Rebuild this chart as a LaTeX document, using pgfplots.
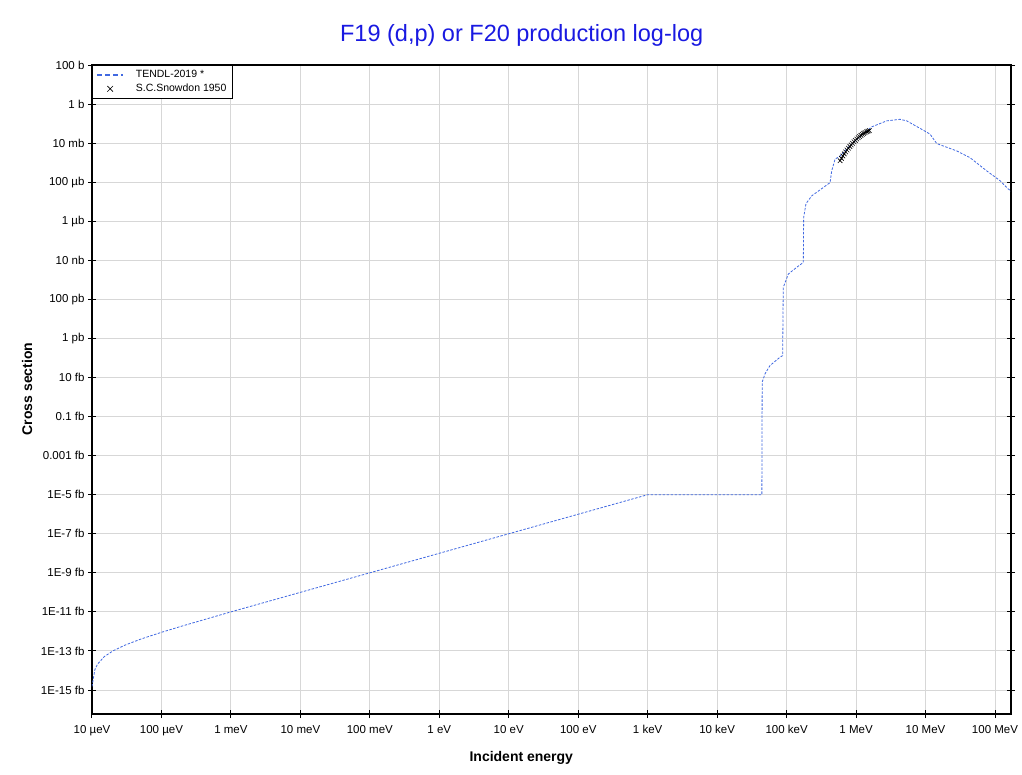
\documentclass[border=0pt]{standalone}
\usepackage{fontspec}
\setmainfont{Liberation Sans}
\usepackage{pgfplots}
\pgfplotsset{compat=1.18}
\definecolor{tendl}{RGB}{65,105,225}
\definecolor{titleblue}{RGB}{25,25,225}
\definecolor{gridgray}{RGB}{215,215,215}

\begin{document}
\begin{tikzpicture}
\useasboundingbox (-92pt,-60pt) rectangle (930pt,714pt);
\begin{axis}[
  at={(0pt,0pt)}, anchor=south west,
  scale only axis, width=919pt, height=649pt,
  xmode=log, ymode=log,
  xmin=1e-5, xmax=1.7e8, ymin=5.9e-32, ymax=1e2,
  xtick={1e-5,1e-4,1e-3,1e-2,1e-1,1,10,100,1e3,1e4,1e5,1e6,1e7,1e8},
  xticklabels={10 µeV,100 µeV,1 meV,10 meV,100 meV,1 eV,10 eV,100 eV,1 keV,10 keV,100 keV,1 MeV,10 MeV,100 MeV},
  ytick={1e2,1,1e-2,1e-4,1e-6,1e-8,1e-10,1e-12,1e-14,1e-16,1e-18,1e-20,1e-22,1e-24,1e-26,1e-28,1e-30},
  yticklabels={100 b,1 b,10 mb,100 µb,1 µb,10 nb,100 pb,1 pb,10 fb,0.1 fb,0.001 fb,1E-5 fb,1E-7 fb,1E-9 fb,1E-11 fb,1E-13 fb,1E-15 fb},
  xminorticks=false, yminorticks=false,
  grid=major, major grid style={gridgray, line width=1pt},
  axis line style={black, line width=1.2pt},
  tick style={black, line width=1pt}, major tick length=8pt, tick align=center,
  xtick pos=bottom, ytick pos=both, yticklabel pos=left,
  tick label style={font=\fontsize{11.5}{13}\selectfont},
  xticklabel style={yshift=-4pt},
  legend style={at={(0,1)}, anchor=north west, draw=black, line width=0.8pt,
    font=\fontsize{10.5}{12}\selectfont, inner xsep=4pt, inner ysep=3pt,
    row sep=1pt, cells={anchor=west},
    /tikz/every odd column/.append style={column sep=10pt}},
  legend cell align=left,
  legend image code/.code={\draw[mark repeat=2,mark phase=2,#1] plot coordinates {(0pt,0pt)(13pt,0pt)(26pt,0pt)};},
]
\addlegendimage{tendl, line width=1.5pt, dash pattern=on 5pt off 3pt}
\addlegendentry{TENDL-2019 *}
\addlegendimage{only marks, mark=x, mark size=4pt, black, line width=0.6pt}
\addlegendentry{S.C.Snowdon 1950}
\addplot[forget plot, tendl, line width=0.8pt, dash pattern=on 2.5pt off 1.5pt]
  coordinates {
  (1e-5,1.5e-30) (1.1e-5,1.1e-29) (1.2e-5,2.1e-29) (1.5e-5,5.1e-29)
  (2e-5,1.0e-28) (3e-5,2.0e-28) (5e-5,4.0e-28) (1e-4,9.0e-28)
  (2e-4,1.9e-27) (5e-4,4.9e-27) (1e-3,1.0e-26) (1e3,1.0e-20)
  (4.40e4,1.0e-20) (4.45e4,5.8e-15) (4.89e4,1.55e-14) (5.77e4,4.1e-14)
  (8.04e4,1.1e-13) (8.77e4,1.32e-13) (8.95e4,4.1e-10) (1.06e5,2.0e-9)
  (1.40e5,4.4e-9) (1.74e5,7.8e-9) (1.76e5,1.55e-6) (1.90e5,7.9e-6)
  (2.30e5,2.0e-5) (4.22e5,9.5e-5) (4.46e5,3.8e-4) (4.98e5,1.5e-3)
  (5.87e5,2.2e-3) (7.4e5,5.2e-3) (9.7e5,1.3e-2) (1.3e6,3.3e-2)
  (1.68e6,6.8e-2) (2.76e6,0.138) (4.30e6,0.166) (5.36e6,0.138)
  (8.81e6,0.051) (1.16e7,0.029) (1.45e7,9.5e-3) (2.81e7,4.0e-3)
  (4.37e7,1.8e-3) (7.60e7,3.8e-4) (1.18e8,1.2e-4) (1.54e8,4.6e-5)
  (1.7e8,3.5e-5)
  };
\addplot[forget plot, only marks, mark=x, mark size=3.2pt, black, line width=0.6pt]
  coordinates {
  (5.89e5,1.26e-3) (6.17e5,1.66e-3) (6.46e5,2.19e-3) (6.76e5,2.82e-3)
  (7.08e5,3.55e-3) (7.41e5,4.47e-3) (7.76e5,5.50e-3) (8.13e5,6.76e-3)
  (8.51e5,8.13e-3) (8.91e5,9.77e-3) (9.33e5,1.18e-2) (9.77e5,1.38e-2)
  (1.023e6,1.62e-2) (1.072e6,1.91e-2) (1.122e6,2.19e-2) (1.175e6,2.51e-2)
  (1.230e6,2.82e-2) (1.288e6,3.16e-2) (1.349e6,3.47e-2) (1.413e6,3.80e-2)
  (1.479e6,4.07e-2) (1.549e6,4.37e-2)
  };
\end{axis}
\node[titleblue, font=\fontsize{23.5}{28}\selectfont] at (429.7pt,679pt) {F19 (d,p) or F20 production log-log};
\node[font=\bfseries\fontsize{14}{17}\selectfont] at (429.3pt,-44pt) {Incident energy};
\node[font=\bfseries\fontsize{14}{17}\selectfont, rotate=90] at (-65pt,325pt) {Cross section};
\end{tikzpicture}
\end{document}
